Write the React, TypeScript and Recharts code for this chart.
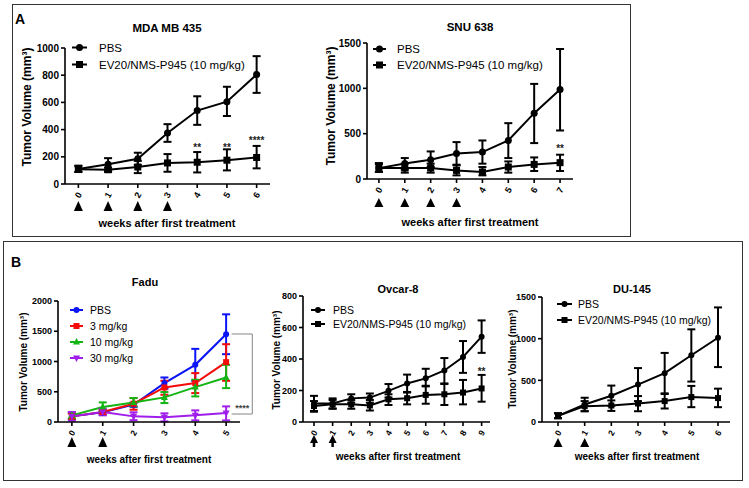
import {
  ErrorBar,
  Legend,
  Line,
  LineChart,
  ReferenceDot,
  ReferenceLine,
  XAxis,
  YAxis,
} from "recharts";

const FONT = "'Liberation Sans', Arial, Helvetica, sans-serif";

// ---- panel A: MDA MB 435 ----
const mdaWeeks = [0, 1, 2, 3, 4, 5, 6];
const mdaPbs = [110, 145, 185, 375, 540, 605, 805];
const mdaPbsHi = [135, 190, 230, 440, 645, 715, 940];
const mdaPbsLo = [90, 100, 140, 310, 435, 500, 670];
const mdaEv = [108, 105, 125, 155, 160, 175, 195];
const mdaEvHi = [130, 120, 170, 220, 235, 255, 280];
const mdaEvLo = [88, 88, 80, 90, 85, 100, 115];
const mdaStarWeeks = [4, 5, 6];
const mdaStarY = [272, 272, 322];
const mdaStarText = ["**", "**", "****"];

// ---- panel A: SNU 638 ----
const snuWeeks = [0, 1, 2, 3, 4, 5, 6, 7];
const snuPbs = [120, 170, 213, 280, 297, 425, 726, 986];
const snuPbsHi = [165, 231, 304, 407, 425, 616, 1049, 1434];
const snuPbsLo = [80, 103, 132, 150, 169, 231, 396, 535];
const snuEv = [121, 121, 121, 95, 77, 132, 161, 180];
const snuEvHi = [176, 169, 169, 158, 132, 194, 238, 268];
const snuEvLo = [77, 70, 70, 40, 40, 70, 88, 88];
const snuStarWeeks = [7];
const snuStarY = [342];
const snuStarText = ["**"];

// ---- panel B: Fadu ----
const faduWeeks = [0, 1, 2, 3, 4, 5];
const faduPbs = [93, 159, 286, 643, 945, 1451];
const faduPbsHi = [150, 200, 320, 736, 1209, 1780];
const faduPbsLo = [50, 120, 250, 550, 680, 1121];
const fadu3 = [93, 165, 302, 571, 643, 989];
const fadu3Hi = [140, 200, 396, 681, 808, 1286];
const fadu3Lo = [50, 130, 203, 450, 478, 681];
const fadu10 = [110, 247, 324, 407, 577, 736];
const fadu10Hi = [160, 324, 396, 495, 698, 945];
const fadu10Lo = [60, 165, 258, 313, 423, 560];
const fadu30 = [93, 165, 93, 77, 110, 148];
const fadu30Hi = [165, 220, 160, 143, 192, 258];
const fadu30Lo = [22, 110, 30, 10, 27, 27];

// ---- panel B: Ovcar-8 ----
const ovWeeks = [0, 1, 2, 3, 4, 5, 6, 7, 8, 9];
const ovPbs = [118, 118, 150, 155, 198, 245, 277, 327, 413, 542];
const ovPbsHi = [166, 150, 176, 181, 241, 301, 338, 406, 514, 645];
const ovPbsLo = [70, 86, 123, 123, 155, 187, 226, 241, 312, 439];
const ovEv = [101, 112, 112, 105, 144, 151, 172, 176, 187, 213];
const ovEvHi = [133, 140, 140, 140, 176, 191, 230, 245, 267, 299];
const ovEvLo = [65, 84, 84, 73, 108, 112, 116, 108, 112, 129];
const ovStarWeeks = [9];
const ovStarY = [320];
const ovStarText = ["**"];

// ---- panel B: DU-145 ----
const duWeeks = [0, 1, 2, 3, 4, 5, 6];
const duPbs = [73, 210, 315, 449, 586, 801, 1011];
const duPbsHi = [105, 291, 437, 647, 829, 1112, 1375];
const duPbsLo = [45, 130, 194, 251, 336, 485, 659];
const duEv = [73, 190, 198, 222, 251, 299, 287];
const duEvHi = [105, 251, 259, 311, 344, 433, 400];
const duEvLo = [45, 129, 133, 129, 162, 178, 178];

type Shape = "circle" | "square" | "triangle" | "down";
type Series = {
  name: string;
  color: string;
  shape: Shape;
  mean: number[];
  hi: number[];
  lo: number[];
};

const EV_NAME = "EV20/NMS-P945 (10 mg/kg)";
const pair = (
  pbs: number[], pbsHi: number[], pbsLo: number[],
  ev: number[], evHi: number[], evLo: number[]
): Series[] => [
  { name: "PBS", color: "#000", shape: "circle", mean: pbs, hi: pbsHi, lo: pbsLo },
  { name: EV_NAME, color: "#000", shape: "square", mean: ev, hi: evHi, lo: evLo },
];

const faduSeries: Series[] = [
  { name: "PBS", color: "#0a14f5", shape: "circle", mean: faduPbs, hi: faduPbsHi, lo: faduPbsLo },
  { name: "3 mg/kg", color: "#f50a0a", shape: "square", mean: fadu3, hi: fadu3Hi, lo: fadu3Lo },
  { name: "10 mg/kg", color: "#14b414", shape: "triangle", mean: fadu10, hi: fadu10Hi, lo: fadu10Lo },
  { name: "30 mg/kg", color: "#a01eeb", shape: "down", mean: fadu30, hi: fadu30Hi, lo: fadu30Lo },
];

function Mark({ cx, cy, shape, color, r }: { cx: number; cy: number; shape: Shape; color: string; r: number }) {
  if (shape === "circle") return <circle cx={cx} cy={cy} r={r} fill={color} />;
  if (shape === "square")
    return <rect x={cx - r} y={cy - r} width={2 * r} height={2 * r} fill={color} />;
  if (shape === "triangle")
    return <polygon points={`${cx},${cy - r - 1} ${cx - r - 0.5},${cy + r - 0.5} ${cx + r + 0.5},${cy + r - 0.5}`} fill={color} />;
  return <polygon points={`${cx},${cy + r + 1} ${cx - r - 0.5},${cy - r + 0.5} ${cx + r + 0.5},${cy - r + 0.5}`} fill={color} />;
}

type Arrow = { top: number; bottom: number; half: number; stem?: number };
type LegendPos = { x: number; y: number; line: number; gap: number; row: number; font: number };

function XTick(props: any) {
  const { x, y, payload, font, arrowWeeks, arrow } = props;
  // y is axis + 6 (tickSize 4 + tickMargin 2)
  const showArrow = arrowWeeks.includes(payload.value);
  const a: Arrow = arrow;
  const headEnd = a.stem ? a.bottom - a.stem : a.bottom;
  return (
    <g transform={`translate(${x},${y})`}>
      <text
        x={0}
        y={0}
        transform="translate(0,5) rotate(-60)"
        textAnchor="middle"
        dominantBaseline="central"
        fontSize={font}
        fontWeight="bold"
        fontFamily={FONT}
        fill="#000"
      >
        {payload.value}
      </text>
      {showArrow && (
        <g>
          <polygon
            points={`0,${a.top - 6} ${-a.half},${headEnd - 6} ${a.half},${headEnd - 6}`}
            fill="#000"
          />
          {a.stem ? (
            <line x1={0} x2={0} y1={headEnd - 7} y2={a.bottom - 6} stroke="#000" strokeWidth={2.5} />
          ) : null}
        </g>
      )}
    </g>
  );
}

type PanelProps = {
  weeks: number[];
  series: Series[];
  yTicks: number[];
  xDomain: [number, number];
  geo: { x: number; y: number; w: number; h: number };
  arrowWeeks: number[];
  arrow: Arrow;
  starWeeks?: number[];
  starY?: number[];
  starText?: string[];
  starFont: number;
  yFont: number;
  xFont: number;
  markR: number;
  legend: LegendPos;
  bracket?: boolean;
};

const ML = 50;
const MT = 10;
const MR = 28;
const XH = 50;

function Panel(p: PanelProps) {
  const rows = p.weeks.map((w, i) => {
    const row: Record<string, any> = { week: w };
    p.series.forEach((s, k) => {
      row[`s${k}`] = s.mean[i];
      row[`e${k}`] = [s.mean[i] - s.lo[i], s.hi[i] - s.mean[i]];
    });
    return row;
  });
  const left = p.geo.x - ML;
  const top = p.geo.y - MT;
  const lg = p.legend;
  const axisStyle = { stroke: "#000", strokeWidth: 1.6 };

  const legendContent = () => (
    <svg width={220} height={lg.row * p.series.length} style={{ display: "block", overflow: "visible" }}>
      {p.series.map((s, i) => {
        const cy = lg.row * i + lg.row / 2;
        return (
          <g key={s.name}>
            <line x1={0} x2={lg.line} y1={cy} y2={cy} stroke={s.color} strokeWidth={2} />
            <Mark cx={lg.line / 2} cy={cy} shape={s.shape} color={s.color} r={p.markR} />
            <text
              x={lg.line + lg.gap}
              y={cy}
              dominantBaseline="central"
              fontSize={lg.font}
              fontFamily={FONT}
              fill="#000"
            >
              {s.name}
            </text>
          </g>
        );
      })}
    </svg>
  );

  return (
    <div style={{ position: "absolute", left, top }}>
      <LineChart
        width={ML + p.geo.w + MR}
        height={MT + p.geo.h + XH}
        data={rows}
        margin={{ top: MT, right: MR, left: 0, bottom: 0 }}
      >
        <XAxis
          dataKey="week"
          type="number"
          domain={p.xDomain}
          ticks={p.weeks}
          interval={0}
          allowDataOverflow
          height={XH}
          tickSize={4}
          tickMargin={2}
          axisLine={axisStyle}
          tickLine={axisStyle}
          tick={(tp: any) => (
            <XTick {...tp} font={p.xFont} arrowWeeks={p.arrowWeeks} arrow={p.arrow} />
          )}
        />
        <YAxis
          type="number"
          domain={[0, p.yTicks[p.yTicks.length - 1]]}
          ticks={p.yTicks}
          interval={0}
          allowDataOverflow
          width={ML}
          tickSize={4}
          tickMargin={2}
          axisLine={axisStyle}
          tickLine={axisStyle}
          tick={{ fontSize: p.yFont, fontWeight: "bold", fill: "#000", fontFamily: FONT }}
        />
        <Legend
          layout="vertical"
          align="center"
          verticalAlign="middle"
          content={legendContent}
          wrapperStyle={{
            left: lg.x - left,
            top: lg.y - lg.row / 2 - top,
            width: "auto",
            height: "auto",
          }}
        />
        {p.series.map((s, k) => (
          <Line
            key={s.name}
            type="linear"
            dataKey={`s${k}`}
            name={s.name}
            stroke={s.color}
            strokeWidth={2}
            isAnimationActive={false}
            dot={(dp: any) => (
              <Mark
                key={`d${k}-${dp.index}`}
                cx={dp.cx}
                cy={dp.cy}
                shape={s.shape}
                color={s.color}
                r={p.markR}
              />
            )}
            activeDot={false}
          >
            <ErrorBar
              dataKey={`e${k}`}
              direction="y"
              width={4}
              strokeWidth={2}
              stroke={s.color}
              isAnimationActive={false}
            />
          </Line>
        ))}
        {(p.starWeeks ?? []).map((w, i) => (
          <ReferenceDot
            key={`star${i}`}
            x={w}
            y={p.starY![i]}
            r={0}
            ifOverflow="visible"
            label={{
              value: p.starText![i],
              position: "center",
              fontSize: p.starFont,
              fontWeight: "bold",
              fill: "#222",
              fontFamily: FONT,
            }}
          />
        ))}
        {p.bracket && (
          <>
            <ReferenceLine
              ifOverflow="visible"
              stroke="#999"
              strokeWidth={1.2}
              segment={[{ x: 5.18, y: 1455 }, { x: 5.85, y: 1455 }]}
            />
            <ReferenceLine
              ifOverflow="visible"
              stroke="#999"
              strokeWidth={1.2}
              segment={[{ x: 5.85, y: 1455 }, { x: 5.85, y: 132 }]}
            />
            <ReferenceLine
              ifOverflow="visible"
              stroke="#999"
              strokeWidth={1.2}
              segment={[{ x: 5.85, y: 132 }, { x: 5.18, y: 132 }]}
            />
            <ReferenceDot
              x={5.52}
              y={235}
              r={0}
              ifOverflow="visible"
              label={{
                value: "****",
                position: "center",
                fontSize: 9,
                fontWeight: "bold",
                fill: "#444",
                fontFamily: FONT,
              }}
            />
          </>
        )}
      </LineChart>
    </div>
  );
}

function Txt({ x, y, size, bold, rot, children }: any) {
  return (
    <div
      style={{
        position: "absolute",
        left: x,
        top: y,
        transform: `translate(-50%,-50%)${rot ? " rotate(-90deg)" : ""}`,
        whiteSpace: "nowrap",
        lineHeight: 1,
        fontSize: size,
        fontWeight: bold ? "bold" : "normal",
        fontFamily: FONT,
        color: "#000",
      }}
    >
      {children}
    </div>
  );
}

const Y_LABEL = "Tumor Volume (mm³)";
const X_LABEL = "weeks after first treatment";

export default function App() {
  return (
    <div
      style={{
        position: "absolute",
        left: 0,
        top: 0,
        width: 749,
        height: 488,
        background: "#fff",
        fontFamily: FONT,
        overflow: "hidden",
      }}
    >
      {/* frames */}
      <div style={{ position: "absolute", left: 12, top: 4, width: 617, height: 231, border: "1.5px solid #333" }} />
      <div style={{ position: "absolute", left: 3, top: 241, width: 738, height: 238, border: "1.5px solid #333" }} />
      <Txt x={20} y={19} size={14} bold>A</Txt>
      <Txt x={16} y={262} size={14} bold>B</Txt>

      {/* A: MDA MB 435 */}
      <Txt x={167} y={29} size={11.5} bold>MDA MB 435</Txt>
      <Txt x={27} y={107} size={12} bold rot>{Y_LABEL}</Txt>
      <Txt x={167} y={223} size={11} bold>{X_LABEL}</Txt>
      <Panel
        weeks={mdaWeeks}
        series={pair(mdaPbs, mdaPbsHi, mdaPbsLo, mdaEv, mdaEvHi, mdaEvLo)}
        yTicks={[0, 200, 400, 600, 800, 1000]}
        xDomain={[-0.45, 6.45]}
        geo={{ x: 65, y: 48, w: 205, h: 136 }}
        arrowWeeks={[0, 1, 2, 3]}
        arrow={{ top: 17, bottom: 27, half: 4.5 }}
        starWeeks={mdaStarWeeks}
        starY={mdaStarY}
        starText={mdaStarText}
        starFont={10}
        yFont={10}
        xFont={9}
        markR={3.5}
        legend={{ x: 72, y: 47, line: 15, gap: 12, row: 17, font: 11.5 }}
      />

      {/* A: SNU 638 */}
      <Txt x={470} y={28} size={11.5} bold>SNU 638</Txt>
      <Txt x={331} y={106} size={12} bold rot>{Y_LABEL}</Txt>
      <Txt x={470} y={222} size={11} bold>{X_LABEL}</Txt>
      <Panel
        weeks={snuWeeks}
        series={pair(snuPbs, snuPbsHi, snuPbsLo, snuEv, snuEvHi, snuEvLo)}
        yTicks={[0, 500, 1000, 1500]}
        xDomain={[-0.46, 7.5]}
        geo={{ x: 367, y: 43, w: 206, h: 136 }}
        arrowWeeks={[0, 1, 2, 3]}
        arrow={{ top: 19, bottom: 28, half: 4.5 }}
        starWeeks={snuStarWeeks}
        starY={snuStarY}
        starText={snuStarText}
        starFont={10}
        yFont={10}
        xFont={9}
        markR={3.5}
        legend={{ x: 373, y: 49, line: 13, gap: 11, row: 16, font: 11.5 }}
      />

      {/* B: Fadu */}
      <Txt x={145} y={282} size={11} bold>Fadu</Txt>
      <Txt x={24} y={362} size={10} bold rot>{Y_LABEL}</Txt>
      <Txt x={149} y={460} size={10} bold>{X_LABEL}</Txt>
      <Panel
        weeks={faduWeeks}
        series={faduSeries}
        yTicks={[0, 500, 1000, 1500, 2000]}
        xDomain={[-0.45, 5.45]}
        geo={{ x: 58, y: 301, w: 182, h: 121 }}
        arrowWeeks={[0, 1]}
        arrow={{ top: 15, bottom: 25, half: 4.5 }}
        starFont={9}
        yFont={9}
        xFont={8.5}
        markR={3}
        legend={{ x: 70, y: 310, line: 13, gap: 7, row: 16, font: 10.5 }}
        bracket
      />

      {/* B: Ovcar-8 */}
      <Txt x={398} y={289} size={11} bold>Ovcar-8</Txt>
      <Txt x={277} y={360} size={10} bold rot>{Y_LABEL}</Txt>
      <Txt x={398} y={457} size={10} bold>{X_LABEL}</Txt>
      <Panel
        weeks={ovWeeks}
        series={pair(ovPbs, ovPbsHi, ovPbsLo, ovEv, ovEvHi, ovEvLo)}
        yTicks={[0, 200, 400, 600, 800]}
        xDomain={[-0.59, 9.45]}
        geo={{ x: 303, y: 296, w: 187, h: 126 }}
        arrowWeeks={[0, 1]}
        arrow={{ top: 13, bottom: 25, half: 4, stem: 4 }}
        starWeeks={ovStarWeeks}
        starY={ovStarY}
        starText={ovStarText}
        starFont={10}
        yFont={9}
        xFont={8.5}
        markR={3}
        legend={{ x: 311, y: 310, line: 14, gap: 8, row: 14, font: 10.5 }}
      />

      {/* B: DU-145 */}
      <Txt x={632} y={289} size={11} bold>DU-145</Txt>
      <Txt x={513} y={359} size={10} bold rot>{Y_LABEL}</Txt>
      <Txt x={637} y={457} size={10} bold>{X_LABEL}</Txt>
      <Panel
        weeks={duWeeks}
        series={pair(duPbs, duPbsHi, duPbsLo, duEv, duEvHi, duEvLo)}
        yTicks={[0, 500, 1000, 1500]}
        xDomain={[-0.6, 6.45]}
        geo={{ x: 542, y: 297, w: 188, h: 125 }}
        arrowWeeks={[0, 1]}
        arrow={{ top: 16, bottom: 25, half: 4.5 }}
        yFont={9}
        xFont={8.5}
        starFont={10}
        markR={3}
        legend={{ x: 557, y: 304, line: 15, gap: 6, row: 16, font: 10.5 }}
      />
    </div>
  );
}
